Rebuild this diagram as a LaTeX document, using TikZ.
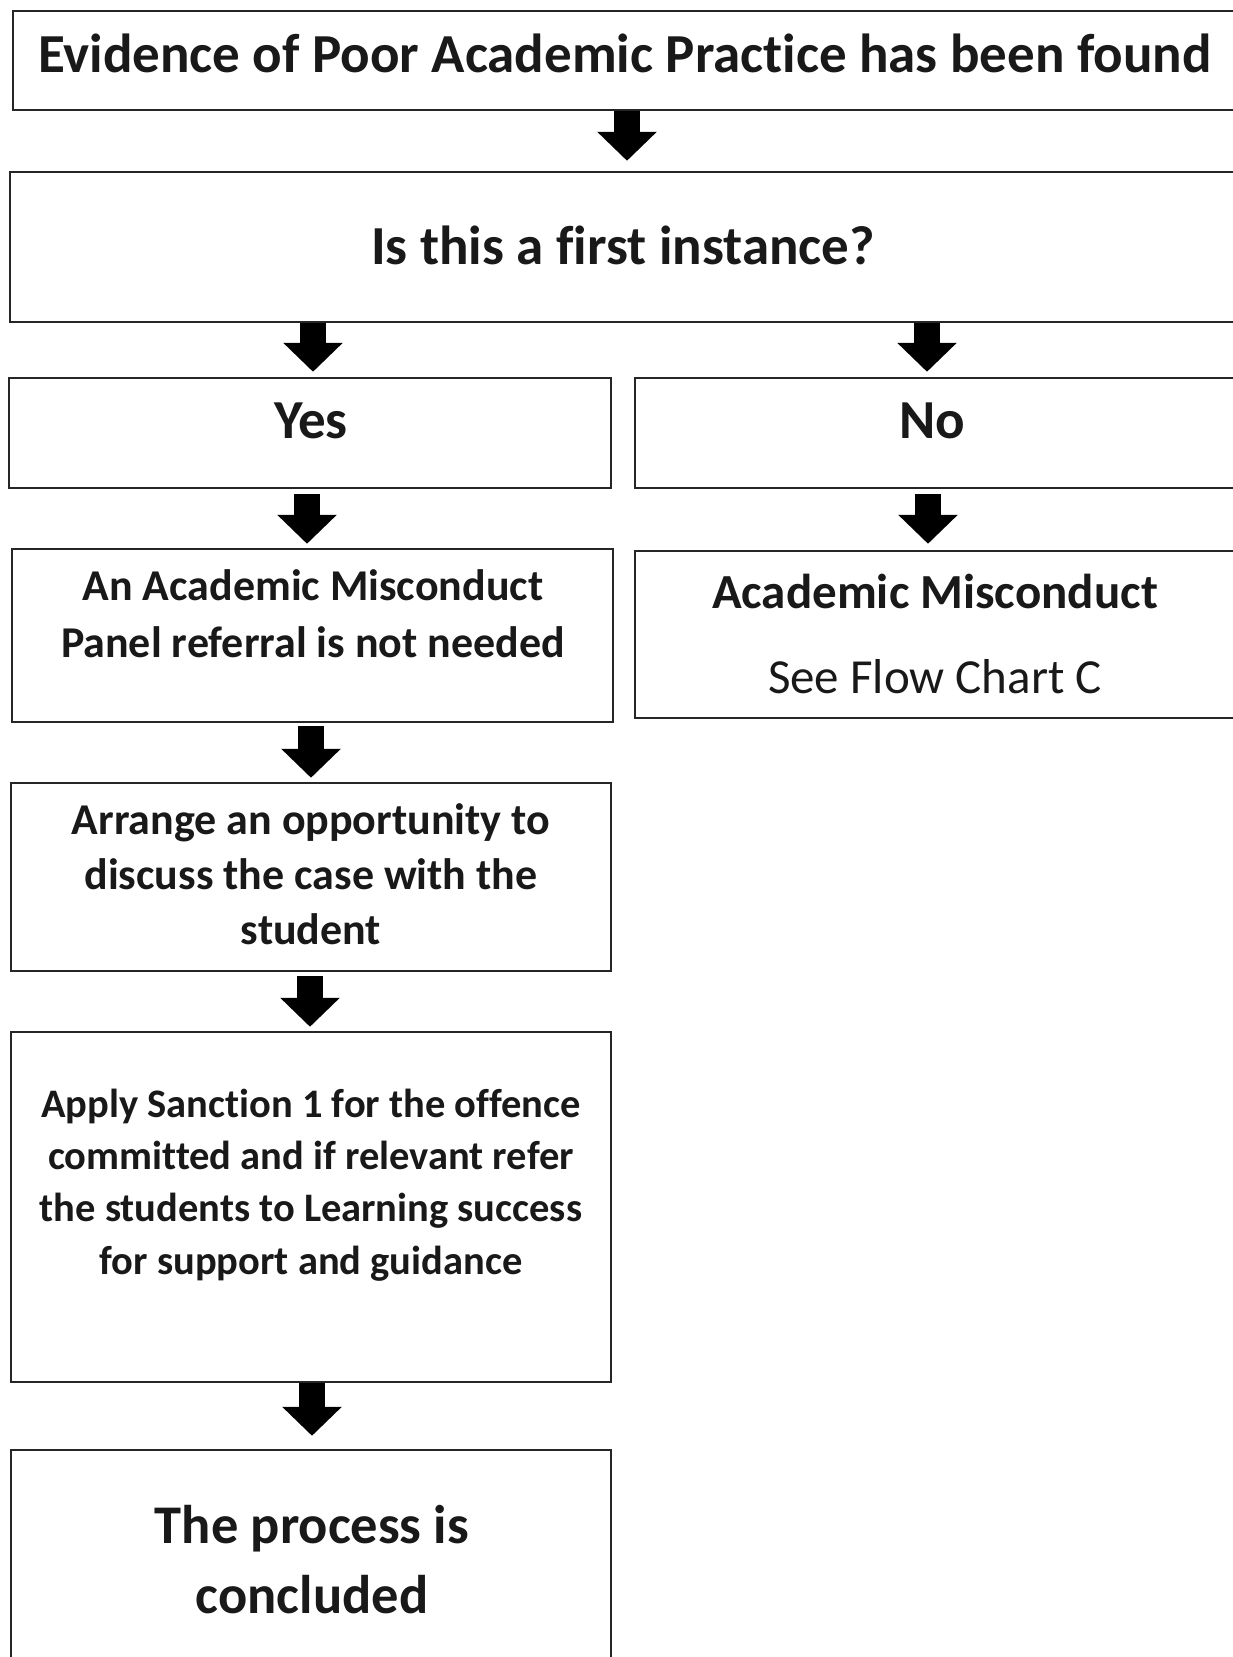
\documentclass[tikz,border=0pt]{standalone}
\usepackage{fontspec}
\setmainfont{Carlito}[Ligatures={NoCommon,NoRare,NoContextual}]
\usetikzlibrary{arrows.meta}
\tikzset{
  box/.style={draw=black!85, line width=2.5pt, rectangle, inner sep=0pt},
  barrow/.style={draw=black, line width=26pt, -{Triangle[width=58pt,length=29pt]}},
  lbl/.style={anchor=base, inner sep=0pt, align=center, text=black!90},
}
\newcommand{\fs}[2]{\fontsize{#1pt}{#2pt}\selectfont}
\begin{document}
\begin{tikzpicture}[x=1pt,y=-1pt]
\clip (0,0) rectangle (1233,1657);
\fill[white] (0,0) rectangle (1233,1657);
% boxes (corners in px, y downward)
\node[box, minimum width=1247pt, minimum height=99pt]  (ev)  at (636.5,60.5) {};
\node[box, minimum width=1250pt, minimum height=150pt] (q)   at (635,247) {};
\node[box, minimum width=602pt,  minimum height=110pt] (yes) at (310,433) {};
\node[box, minimum width=625pt,  minimum height=110pt] (no)  at (947.5,433) {};
\node[box, minimum width=601pt,  minimum height=173pt] (amp) at (312.5,635.5) {};
\node[box, minimum width=625pt,  minimum height=167pt] (amc) at (947.5,634.5) {};
\node[box, minimum width=600pt,  minimum height=188pt] (arr) at (311,877) {};
\node[box, minimum width=600pt,  minimum height=350pt] (app) at (311,1207) {};
\node[box, minimum width=600pt,  minimum height=250pt] (con) at (311,1575) {};
% texts (multi-line nodes: base = last line)
\node[lbl, font=\bfseries\fs{55}{66}] (tev) at (625,72) {Evidence of Poor Academic Practice has been found};
\node[lbl, font=\bfseries\fs{55}{66}] (tq) at (623,264) {Is this a first instance?};
\node[lbl, font=\bfseries\fs{55}{66}] (tyes) at (311,438) {Yes};
\node[lbl, font=\bfseries\fs{55}{66}] (tno) at (932,438) {No};
\node[lbl, font=\bfseries\fs{44}{57}] (tamp) at (313,657) {An Academic Misconduct\\Panel referral is not needed};
\node[lbl, font=\bfseries\fs{49}{57}] (tamc) at (935,608) {Academic Misconduct};
\node[lbl, font=\fs{49}{57}] (tsee) at (935,693) {See Flow Chart C};
\node[lbl, font=\bfseries\fs{44}{55}] (tarr) at (311,944) {Arrange an opportunity to\\discuss the case with the\\student};
\node[lbl, font=\bfseries\fs{40.5}{52.3}] (tapp) at (311,1274) {Apply Sanction 1 for the offence\\committed and if relevant refer\\the students to Learning success\\for support and guidance};
\node[lbl, font=\bfseries\fs{54.5}{70}] (tcon) at (312,1613) {The process is\\concluded};
% arrow columns
\coordinate (c1) at (627,0);
\coordinate (cl2) at (313,0);
\coordinate (cr2) at (927,0);
\coordinate (cl3) at (307,0);
\coordinate (cr3) at (928,0);
\coordinate (c4) at (311,0);
\coordinate (c5) at (310,0);
\coordinate (c6) at (312,0);
% arrows
\draw[barrow, shorten >=10pt] (ev.south -| c1) -- (q.north -| c1);
\draw[barrow, shorten >=5pt] (q.south -| cl2) -- (yes.north -| cl2);
\draw[barrow, shorten >=5pt] (q.south -| cr2) -- (no.north -| cr2);
\draw[barrow, shorten <=5pt, shorten >=4pt] (yes.south -| cl3) -- (amp.north -| cl3);
\draw[barrow, shorten <=5pt, shorten >=6pt] (no.south -| cr3) -- (amc.north -| cr3);
\draw[barrow, shorten <=3pt, shorten >=4pt] (amp.south -| c4) -- (arr.north -| c4);
\draw[barrow, shorten <=4pt, shorten >=4pt] (arr.south -| c5) -- (app.north -| c5);
\draw[barrow, shorten >=13pt] (app.south -| c6) -- (con.north -| c6);
\end{tikzpicture}
\end{document}
